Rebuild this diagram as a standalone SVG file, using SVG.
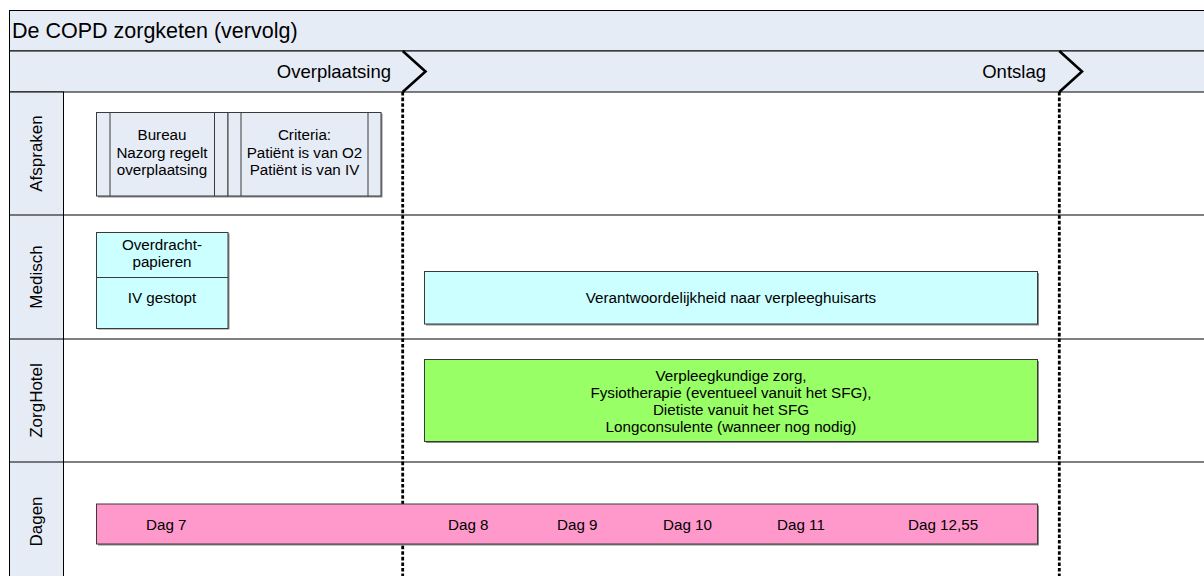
<svg xmlns="http://www.w3.org/2000/svg" width="1204" height="576" viewBox="0 0 1204 576">
<style>
text{font-family:"Liberation Sans",Arial,sans-serif;fill:#000}
.band{fill:#E6ECF6;stroke:#000;stroke-width:1}
.line{stroke:#000;stroke-width:1.2;fill:none}
.title{font-size:21.5px}
.hdr{font-size:18.5px;text-anchor:end}
.lane{font-size:17px;text-anchor:middle}
.bt{font-size:15.2px;text-anchor:middle}
.box{stroke:#3a3a3a;stroke-width:1}
.shadow{fill:#8a8a8a}
.proc{fill:#E6ECF6}
.cyan{fill:#CCFFFF}
.green{fill:#99FF66}
.pink{fill:#FF99CC}
.chev{fill:none;stroke:#000;stroke-width:2.6;stroke-linejoin:miter}
.ms{stroke:#000;stroke-width:2.8;stroke-dasharray:3.6 2}
</style>
<rect x="0" y="0" width="1204" height="576" fill="#fff"/>
<g id="frame">
<rect class="band" x="9.5" y="10.5" width="1200" height="40.5"/>
<rect class="band" x="9.5" y="51" width="1200" height="41"/>
<rect class="band" x="9.5" y="92" width="54" height="490"/>
<line class="line" x1="9.5" y1="215" x2="1204" y2="215"/>
<line class="line" x1="9.5" y1="339" x2="1204" y2="339"/>
<line class="line" x1="9.5" y1="462" x2="1204" y2="462"/>
<text class="title" x="12" y="37.5">De COPD zorgketen (vervolg)</text>
</g>
<g id="lane-labels">
<text class="lane" transform="translate(42 153.5) rotate(-90)">Afspraken</text>
<text class="lane" transform="translate(42 277) rotate(-90)">Medisch</text>
<text class="lane" transform="translate(42 400.5) rotate(-90)">ZorgHotel</text>
<text class="lane" transform="translate(42 521.5) rotate(-90)">Dagen</text>
</g>
<g id="connectors">
<line class="ms" x1="402.7" y1="92" x2="402.7" y2="576"/>
<line class="ms" x1="1059.3" y1="92" x2="1059.3" y2="576"/>
</g>
<g id="milestone-overplaatsing">
<text class="hdr" x="391" y="78">Overplaatsing</text>
<polyline class="chev" points="402.7,51 425.5,71.5 402.7,92"/>
</g>
<g id="milestone-ontslag">
<text class="hdr" x="1046" y="78">Ontslag</text>
<polyline class="chev" points="1059.3,51 1082,71.5 1059.3,92"/>
</g>
<g id="bureau-nazorg">
<rect class="shadow" x="98" y="113.5" width="131.5" height="84"/>
<rect class="box proc" x="96.5" y="112.5" width="131.5" height="83.5"/>
<line class="box" x1="110" y1="112.5" x2="110" y2="196"/>
<line class="box" x1="214.5" y1="112.5" x2="214.5" y2="196"/>
<text class="bt" x="162" y="140">Bureau</text>
<text class="bt" x="162" y="157.5">Nazorg regelt</text>
<text class="bt" x="162" y="175">overplaatsing</text>
</g>
<g id="criteria">
<rect class="shadow" x="229.5" y="113.5" width="153" height="84"/>
<rect class="box proc" x="228" y="112.5" width="153" height="83.5"/>
<line class="box" x1="241" y1="112.5" x2="241" y2="196"/>
<line class="box" x1="368" y1="112.5" x2="368" y2="196"/>
<text class="bt" x="304.5" y="140">Criteria:</text>
<text class="bt" x="304.5" y="157.5">Patiënt is van O2</text>
<text class="bt" x="304.5" y="175">Patiënt is van IV</text>
</g>
<g id="overdracht">
<rect class="shadow" x="98" y="233.5" width="131.5" height="96"/>
<rect class="box cyan" x="96.5" y="232.5" width="131.5" height="96"/>
<line class="box" x1="96.5" y1="277.5" x2="228" y2="277.5"/>
<text class="bt" x="162" y="250">Overdracht-</text>
<text class="bt" x="162" y="267">papieren</text>
<text class="bt" x="162" y="302.5">IV gestopt</text>
</g>
<g id="verantwoordelijkheid">
<rect class="shadow" x="426" y="273" width="613" height="52.5"/>
<rect class="box cyan" x="424.5" y="271.5" width="613" height="52.5"/>
<text class="bt" x="731" y="302.5">Verantwoordelijkheid naar verpleeghuisarts</text>
</g>
<g id="zorg">
<rect class="shadow" x="426" y="361" width="613" height="82"/>
<rect class="box green" x="424.5" y="359.5" width="613" height="82"/>
<text class="bt" x="731" y="380.5">Verpleegkundige zorg,</text>
<text class="bt" x="731" y="397.5">Fysiotherapie (eventueel vanuit het SFG),</text>
<text class="bt" x="731" y="414.5">Dietiste vanuit het SFG</text>
<text class="bt" x="731" y="431.5">Longconsulente (wanneer nog nodig)</text>
</g>
<g id="dagen">
<rect class="shadow" x="98" y="505.5" width="941" height="40"/>
<rect class="box pink" x="96.5" y="504" width="941" height="40"/>
<text class="bt" x="146" y="529.5" style="text-anchor:start">Dag 7</text>
<text class="bt" x="448" y="529.5" style="text-anchor:start">Dag 8</text>
<text class="bt" x="557" y="529.5" style="text-anchor:start">Dag 9</text>
<text class="bt" x="663" y="529.5" style="text-anchor:start">Dag 10</text>
<text class="bt" x="777" y="529.5" style="text-anchor:start">Dag 11</text>
<text class="bt" x="908" y="529.5" style="text-anchor:start">Dag 12,55</text>
</g>
</svg>
